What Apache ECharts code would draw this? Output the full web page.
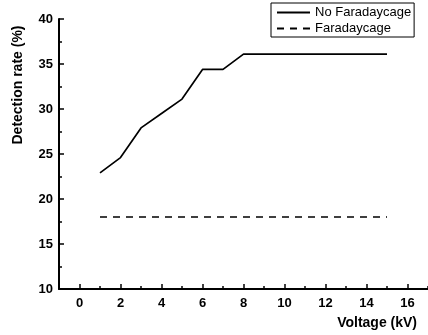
<!DOCTYPE html>
<html>
<head>
<meta charset="utf-8">
<script src="https://cdn.jsdelivr.net/npm/echarts@6/dist/echarts.min.js"></script>
<style>
html,body{margin:0;padding:0;background:#fff;}
#chart{width:428px;height:335px;}
</style>
</head>
<body>
<div id="chart"></div>
<script>
// Detection rate versus applied voltage, with and without a Faraday cage
const voltage = [1, 2, 3, 4, 5, 6, 7, 8, 9, 10, 11, 12, 13, 14, 15];
const noFaradaycage = [22.9, 24.6, 27.9, 29.5, 31.1, 34.4, 34.4, 36.1, 36.1, 36.1, 36.1, 36.1, 36.1, 36.1, 36.1];
const faradaycage = [18, 18, 18, 18, 18, 18, 18, 18, 18, 18, 18, 18, 18, 18, 18];
const seriesNames = ['No Faradaycage', 'Faradaycage'];
const xMajorTicks = [0, 2, 4, 6, 8, 10, 12, 14, 16];
const xMinorTicks = [-1, 1, 3, 5, 7, 9, 11, 13, 15, 17];

const font = 'Liberation Sans, Arial, sans-serif';
const chart = echarts.init(document.getElementById('chart'));

function pairs(xs, ys) { return xs.map((x, i) => [x, ys[i]]); }

const baseX = {
  type: 'value', min: -1, max: 17, gridIndex: 0,
  splitLine: { show: false }
};

chart.setOption({
  animation: false,
  backgroundColor: '#fff',
  grid: { left: 59, top: 19, right: 0, bottom: 46, containLabel: false, outerBoundsMode: 'none' },
  legend: {
    left: 271, top: 3,
    orient: 'vertical',
    itemGap: 3,
    itemWidth: 33, itemHeight: 14,
    padding: [3, 3, 2, 5],
    borderColor: '#000', borderWidth: 1,
    backgroundColor: '#fff',
    itemStyle: { opacity: 0 },
    textStyle: { fontFamily: font, fontSize: 13, color: '#000' },
    data: seriesNames
  },
  xAxis: [
    Object.assign({}, baseX, {
      position: 'bottom',
      name: 'Voltage (kV)',
      nameLocation: 'end',
      nameGap: 0,
      nameTextStyle: { fontFamily: font, fontSize: 14, fontWeight: 'bold', color: '#000',
        align: 'right', verticalAlign: 'top', padding: [27, 11, 0, 0] },
      axisLine: { onZero: false, lineStyle: { color: '#000', width: 2 } },
      axisTick: { inside: true, length: 5, customValues: xMajorTicks, lineStyle: { color: '#000', width: 1.5 } },
      axisLabel: {
        customValues: xMajorTicks,
        fontFamily: font, fontSize: 13, fontWeight: 'bold', color: '#000', margin: 8
      }
    }),
    Object.assign({}, baseX, {
      position: 'bottom',
      axisLine: { show: false, onZero: false },
      axisTick: { inside: true, length: 3, customValues: xMinorTicks, lineStyle: { color: '#000', width: 1.5 } },
      axisLabel: { show: false }
    })
  ],
  yAxis: {
    type: 'value', min: 10, max: 40, interval: 5,
    name: 'Detection rate (%)',
    nameLocation: 'middle',
    nameGap: 34,
    nameTextStyle: { fontFamily: font, fontSize: 14, fontWeight: 'bold', color: '#000',
      padding: [0, 0, 0, 138] },
    axisLine: { onZero: false, lineStyle: { color: '#000', width: 2 } },
    axisTick: { inside: true, length: 5, lineStyle: { color: '#000', width: 1.5 } },
    minorTick: { show: true, splitNumber: 2, length: 3, lineStyle: { color: '#000', width: 1.5 } },
    splitLine: { show: false },
    axisLabel: { fontFamily: font, fontSize: 13, fontWeight: 'bold', color: '#000', margin: 6 }
  },
  series: [
    {
      name: seriesNames[0], type: 'line', data: pairs(voltage, noFaradaycage),
      xAxisIndex: 0, showSymbol: false, symbol: 'none',
      lineStyle: { color: '#000', width: 1.7, type: 'solid' },
      itemStyle: { color: '#000' }
    },
    {
      name: seriesNames[1], type: 'line', data: pairs(voltage, faradaycage),
      xAxisIndex: 0, showSymbol: false, symbol: 'none',
      lineStyle: { color: '#000', width: 1.7, type: [7, 6] },
      itemStyle: { color: '#000' }
    }
  ]
});
</script>
</body>
</html>
